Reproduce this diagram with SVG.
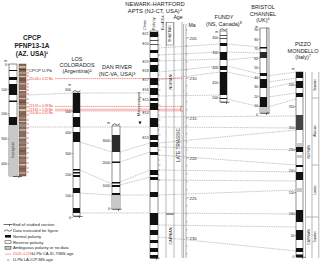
<svg xmlns="http://www.w3.org/2000/svg" xmlns:xlink="http://www.w3.org/1999/xlink" width="320" height="265" viewBox="0 0 320 265">
<style>
text{font-family:"Liberation Sans",Arial,sans-serif;fill:#222}
.ti{font-size:5.5px;text-anchor:middle}
.tb{font-size:6.5px;font-weight:bold;text-anchor:middle}
.lb{font-size:3.4px;text-anchor:end}
.ch{font-size:3.4px;text-anchor:end}
.hd{font-size:3.8px}
.lg{font-size:4.2px}
.rd{font-size:3.1px;fill:#e53935}
.n{fill:#111}
.g{fill:#c8c8c8}
.col{fill:#fff;stroke:#222;stroke-width:0.5}
.conn{fill:none;stroke:#858585;stroke-width:0.55;stroke-dasharray:1 0.8}
.red{fill:none;stroke:#e53935;stroke-width:0.55;stroke-dasharray:1.5 0.6}
.tk{stroke:#222;stroke-width:0.35}
.rt{stroke:#e53935;stroke-width:0.7}
.ax{stroke:#9a9a9a;stroke-width:0.7;fill:none}
.mk{fill:none;stroke:#111;stroke-width:0.6}
</style>
<defs>
<g id="endmk"><path class="mk" d="M-4.5,0 H4.5 M1.5,0 V1.6"/></g>
<g id="trunc"><path class="mk" d="M-4,0.8 L-1.5,-0.8 L1.5,0.8 L4,-0.8"/></g>
</defs>

<!-- connectors -->
<g id="connectors">
<path class="conn" d="M28,95 L73,93 M80,93 L150,93"/>
<path class="conn" d="M28,127 L73,127 M80,127 L150,127"/>
<path class="conn" d="M80,142 L112,152 M80,170 L112,184 M80,193 L112,195 M80,213 L150,213"/>
<path class="conn" d="M120,152 L150,143 M120,162 L150,152 M120,182 L150,170 M120,185 L150,177 M120,195 L150,195"/>
<path class="conn" d="M159,48 L220,44 M159,55 L220,52 M159,61 L220,59 M159,72 L220,66 M159,80 L220,72 M159,96 L220,95"/>
<path class="conn" d="M227,44 L260,47 M227,52 L260,53 M227,60 L260,57 M227,66 L260,74 M227,72 L260,79 M227,99 L260,107"/>
<path class="conn" d="M268,76 L296,72 M268,82 L296,78 M268,88 L296,82 M268,97 L296,93 M268,107 L296,99"/>
<path class="conn" d="M159,117 L296,116 M159,127 L296,128 M159,143 L296,130 M159,147 L296,150 M159,155 L296,165 M159,170 L296,172 M159,180 L296,181 M159,195 L296,190 M159,213 L296,214 M159,225 L296,227 M159,237 L296,251"/>
</g>

<!-- U-Pb ages -->
<g id="ages">
<rect x="55" y="108.5" width="126" height="3" fill="#f4b8b8" opacity="0.8"/>
<path class="red" d="M55,78.6 H183 M55,106.4 H181"/>
<path d="M183,106.4 H180.8 V111 H183" fill="none" stroke="#e53935" stroke-width="0.6"/>
<text x="29" y="71.5" style="font-size:4.3px">CPCP U-Pb</text>
<text class="rd" x="29" y="79.6">210.08 ± 0.22 Ma</text>
<text class="rd" x="29" y="107">213.55 ± 0.28 Ma</text>
<text class="rd" x="29" y="110.6">213.81 ± 0.26 Ma</text>
<text class="rd" x="29" y="114.2">214.06 ± 0.25 Ma</text>
</g>

<!-- CPCP -->
<g id="cpcp">
<text class="tb" x="32" y="40">CPCP</text>
<text class="tb" x="32" y="48">PFNP13-1A</text>
<text class="tb" x="32" y="56">(AZ. USA)¹</text>
<text class="lb" x="7" y="62">m</text>
<text class="lb" x="7" y="65.5">0</text>
<text class="lb" x="7" y="90.5">100</text>
<text class="lb" x="7" y="115">200</text>
<text class="lb" x="7" y="140">300</text>
<text class="lb" x="7" y="165">400</text>
<path class="tk" d="M7.3,64.3 H9 M7.3,89.3 H9 M7.3,113.8 H9 M7.3,138.8 H9 M7.3,163.8 H9"/>
<rect class="col" x="9" y="64" width="8" height="112"/>
<rect class="n" x="9" y="70" width="8" height="1"/>
<rect class="n" x="9" y="77" width="8" height="3"/>
<rect class="n" x="9" y="84" width="8" height="11"/>
<rect class="n" x="9" y="100.5" width="8" height="1.5"/>
<rect class="n" x="9" y="117" width="8" height="8"/>
<rect class="g" x="9.25" y="125" width="7.5" height="50.75"/>
<text x="13.8" y="150" transform="rotate(-90 13.8 150)" style="font-size:3.2px;text-anchor:middle">In progress</text>
<rect x="19" y="64" width="7" height="112" fill="#8b6b5a" stroke="#333" stroke-width="0.4"/>
<g>
<rect x="19.2" y="66" width="6.6" height="2" fill="#c9b3a1"/>
<rect x="19.2" y="69" width="6.6" height="1.5" fill="#5e4437"/>
<rect x="19.2" y="72" width="6.6" height="2" fill="#b38f7a"/>
<rect x="19.2" y="76" width="6.6" height="1" fill="#d8c8bb"/>
<rect x="19.2" y="78" width="6.6" height="3" fill="#7a5446"/>
<rect x="19.2" y="83" width="6.6" height="1.5" fill="#c1a493"/>
<rect x="19.2" y="86" width="6.6" height="2" fill="#946b58"/>
<rect x="19.2" y="90" width="6.6" height="1" fill="#e0d2c6"/>
<rect x="19.2" y="93" width="6.6" height="2.5" fill="#a07d6b"/>
<rect x="19.2" y="98" width="6.6" height="1" fill="#cfbfb3"/>
<rect x="19.2" y="101" width="6.6" height="2" fill="#6f5246"/>
<rect x="19.2" y="105" width="6.6" height="1.5" fill="#b89c8a"/>
<rect x="19.2" y="109" width="6.6" height="2" fill="#d2c0b2"/>
<rect x="19.2" y="113" width="6.6" height="1.5" fill="#7d5e50"/>
<rect x="19.2" y="117" width="6.6" height="2" fill="#a48572"/>
<rect x="19.2" y="121" width="6.6" height="1" fill="#ccb7a8"/>
<rect x="19.2" y="124" width="6.6" height="3" fill="#8e8a8c"/>
<rect x="19.2" y="129" width="6.6" height="2" fill="#b9a597"/>
<rect x="19.2" y="133" width="6.6" height="2" fill="#7b706e"/>
<rect x="19.2" y="137" width="6.6" height="1.5" fill="#c8b6a8"/>
<rect x="19.2" y="141" width="6.6" height="3" fill="#8a7f80"/>
<rect x="19.2" y="146" width="6.6" height="1.5" fill="#b09383"/>
<rect x="19.2" y="150" width="6.6" height="2" fill="#6b5b57"/>
<rect x="19.2" y="155" width="6.6" height="1.5" fill="#c0a898"/>
<rect x="19.2" y="159" width="6.6" height="3" fill="#9b7b6b"/>
<rect x="19.2" y="164" width="6.6" height="1.5" fill="#d1beb0"/>
<rect x="19.2" y="168" width="6.6" height="2" fill="#7c5c4c"/>
<rect x="19.2" y="172" width="6.6" height="2" fill="#b7957f"/>
</g>
<path class="rt" d="M26.5,70 H28.8 M26.5,73 H28.8 M26.5,76 H28.8 M26.5,80 H28.8 M26.5,84 H28.8 M26.5,87 H28.8 M26.5,90 H28.8 M26.5,94 H28.8 M26.5,99 H28.8 M26.5,103 H28.8 M26.5,107 H28.8 M26.5,111 H28.8 M26.5,115 H28.8 M26.5,120 H28.8 M26.5,124 H28.8 M26.5,128 H28.8 M26.5,133 H28.8 M26.5,138 H28.8 M26.5,143 H28.8 M26.5,148 H28.8 M26.5,153 H28.8 M26.5,158 H28.8 M26.5,163 H28.8 M26.5,168 H28.8 M26.5,172 H28.8"/>
<use xlink:href="#endmk" x="17.5" y="176.5"/>
</g>

<!-- Los Colorados -->
<g id="los-colorados">
<text class="ti" x="77" y="61">LOS</text>
<text class="ti" x="77" y="67">COLORADOS</text>
<text class="ti" x="77" y="73">(Argentina)²</text>
<text class="lb" x="71" y="85.5">m</text>
<text class="lb" x="71" y="91">600</text>
<text class="lb" x="71" y="112.5">500</text>
<text class="lb" x="71" y="133.5">400</text>
<text class="lb" x="71" y="154.5">300</text>
<text class="lb" x="71" y="175.5">200</text>
<text class="lb" x="71" y="197">100</text>
<text class="lb" x="71" y="219">0</text>
<path class="tk" d="M71.3,111.5 H73 M71.3,132.5 H73 M71.3,153.5 H73 M71.3,174.5 H73 M71.3,196 H73 M71.3,217.5 H73"/>
<rect class="col" x="73" y="93" width="7" height="123"/>
<rect class="n" x="73" y="93" width="7" height="20"/>
<rect class="n" x="73" y="117" width="7" height="10"/>
<rect class="n" x="73" y="132" width="7" height="10"/>
<rect class="n" x="73" y="169" width="7" height="1.5"/>
<rect class="n" x="73" y="172" width="7" height="1.5"/>
<rect class="n" x="73" y="175" width="7" height="2"/>
<rect class="n" x="73" y="188" width="7" height="5"/>
<rect class="n" x="73" y="208" width="7" height="5"/>
<use xlink:href="#trunc" x="76.5" y="91.3"/>
<use xlink:href="#endmk" x="78" y="216.5"/>
</g>

<!-- Dan River -->
<g id="dan-river">
<text class="ti" x="117" y="69">DAN RIVER</text>
<text class="ti" x="117" y="75.5">(NC-VA, USA)³</text>
<text class="lb" x="110" y="124">m</text>
<text class="lb" x="110" y="142">3000</text>
<text class="lb" x="110" y="164">2000</text>
<text class="lb" x="110" y="187">1000</text>
<text class="lb" x="110" y="210">0</text>
<path class="tk" d="M110.3,141 H112 M110.3,163 H112 M110.3,186 H112 M110.3,208.8 H112"/>
<rect class="col" x="112" y="126" width="8" height="83"/>
<rect x="112" y="135" width="8" height="17" fill="#2a2a2a"/>
<rect class="n" x="112" y="161.5" width="8" height="1.5"/>
<rect class="n" x="112" y="182" width="8" height="1.5"/>
<rect class="n" x="112" y="185" width="8" height="2"/>
<rect class="n" x="112" y="193" width="8" height="2"/>
<rect class="g" x="112.25" y="195" width="7.5" height="13.75"/>
<use xlink:href="#trunc" x="116" y="124.5"/>
<use xlink:href="#endmk" x="117" y="209.3"/>
</g>

<!-- Newark-Hartford -->
<g id="newark">
<text class="ti" x="155" y="6" style="font-size:5.8px">NEWARK-HARTFORD</text>
<text class="ti" x="155" y="12.8" style="font-size:5.8px">APTS (NJ-CT, USA)⁴</text>
<text class="hd" transform="translate(146,30) rotate(-90)">Chron</text>
<text class="hd" transform="translate(155.3,30) rotate(-90)">Polarity</text>
<text class="hd" transform="translate(163.5,30) rotate(-90)">Ecc405k</text>
<text class="ch" x="148.6" y="35">E21</text>
<text class="ch" x="148.6" y="44.5">E20</text>
<text class="ch" x="148.6" y="63">E19</text>
<text class="ch" x="148.6" y="71.5">E18</text>
<text class="ch" x="148.6" y="81">E17</text>
<text class="ch" x="148.6" y="91">E16</text>
<text class="ch" x="148.6" y="100.5">E15</text>
<text class="ch" x="148.6" y="113.5">E14</text>
<text class="ch" x="148.6" y="138.5">E13</text>
<rect class="col" x="150" y="31" width="8" height="227"/>
<rect class="n" x="150" y="32" width="8" height="5"/>
<rect class="n" x="150" y="40" width="8" height="0.7"/>
<rect class="n" x="150" y="44" width="8" height="0.7"/>
<rect class="n" x="150" y="50" width="8" height="3"/>
<rect class="n" x="150" y="58" width="8" height="4"/>
<rect class="n" x="150" y="65" width="8" height="7"/>
<rect class="n" x="150" y="78" width="8" height="7"/>
<rect class="n" x="150" y="88" width="8" height="7"/>
<rect class="n" x="150" y="98" width="8" height="3"/>
<rect class="n" x="150" y="103" width="8" height="7"/>
<rect class="n" x="150" y="118" width="8" height="9"/>
<rect class="n" x="150" y="135" width="8" height="5"/>
<rect class="n" x="150" y="142" width="8" height="5"/>
<rect class="n" x="150" y="152" width="8" height="3"/>
<rect class="n" x="150" y="170" width="8" height="5"/>
<rect class="n" x="150" y="177" width="8" height="3"/>
<rect class="n" x="150" y="192" width="8" height="5"/>
<rect class="n" x="150" y="213" width="8" height="12"/>
<rect class="n" x="150" y="230" width="8" height="5"/>
<rect class="n" x="150" y="240" width="8" height="3"/>
<rect class="n" x="150" y="248" width="8" height="4"/>
<rect class="n" x="150" y="255" width="8" height="3"/>
<path class="tk" d="M158,35 h1.5 M158,40 h1.5 M158,45 h2.5 M158,50 h1.5 M158,55 h1.5 M158,60 h2.5 M158,65 h1.5 M158,70 h1.5 M158,75 h2.5 M158,80 h1.5 M158,85 h1.5 M158,90 h2.5 M158,95 h1.5 M158,100 h1.5 M158,105 h2.5 M158,110 h1.5 M158,115 h1.5 M158,120 h2.5 M158,125 h1.5 M158,130 h1.5 M158,135 h2.5 M158,140 h1.5 M158,145 h1.5 M158,150 h2.5 M158,155 h1.5 M158,160 h1.5 M158,165 h2.5 M158,170 h1.5 M158,175 h1.5 M158,180 h2.5"/>
<use xlink:href="#endmk" x="155" y="258.3"/>
</g>

<!-- Age and Ma scale -->
<g id="age-scale">
<text x="178" y="19" style="font-size:5.2px;text-anchor:middle">Age</text>
<path class="ax" d="M166,22 V258 M174,22 V258 M182,22 V258"/>
<rect x="166.5" y="22.5" width="7" height="22.5" fill="#fff" stroke="#333" stroke-width="0.4"/>
<text transform="translate(171.3,33.7) rotate(-90)" style="font-size:3.3px;text-anchor:middle">RHAETIAN</text>
<text transform="translate(171.5,82) rotate(-90)" style="font-size:3.8px;text-anchor:middle">NORIAN</text>
<rect x="166" y="213" width="8" height="2" fill="#999"/>
<text transform="translate(171.5,236) rotate(-90)" style="font-size:3.8px;text-anchor:middle">CARNIAN</text>
<text transform="translate(179.6,145) rotate(-90)" style="font-size:4.6px;text-anchor:middle">LATE TRIASSIC</text>
<path d="M183.6,24 V258 M186,24 V258" stroke="#9a9a9a" stroke-width="0.8" fill="none"/>
<text x="188.5" y="27" style="font-size:5.2px">Ma</text>
<path class="tk" d="M186,30 h1.5 M186,38 h3 M186,46 h1.5 M186,54 h1.5 M186,62 h1.5 M186,70 h1.5 M186,78 h3 M186,86 h1.5 M186,94 h1.5 M186,102 h1.5 M186,110 h1.5 M186,118 h3 M186,126 h1.5 M186,134 h1.5 M186,142 h1.5 M186,150 h1.5 M186,158 h3 M186,166 h1.5 M186,174 h1.5 M186,182 h1.5 M186,190 h1.5 M186,198 h3 M186,206 h1.5 M186,214 h1.5 M186,222 h1.5 M186,230 h1.5 M186,238 h3 M186,246 h1.5 M186,254 h1.5"/>
<text x="189.5" y="39.5" style="font-size:4.3px">205</text>
<text x="189.5" y="79.5" style="font-size:4.3px">210</text>
<text x="189.5" y="119.5" style="font-size:4.3px">215</text>
<text x="189.5" y="159.5" style="font-size:4.3px">220</text>
<text x="189.5" y="199.5" style="font-size:4.3px">225</text>
<text x="189.5" y="239.5" style="font-size:4.3px">230</text>
</g>

<!-- Manicouagan -->
<g id="manicouagan">
<text transform="translate(139.8,104) rotate(-90)" style="font-size:4px;text-anchor:middle">Manicouagan</text>
<path d="M138.4,121.5 H141.6 L140,124.5 Z" fill="#111"/>
</g>

<!-- Fundy -->
<g id="fundy">
<text class="ti" x="224" y="19">FUNDY</text>
<text class="ti" x="224" y="25.5">(NS, Canada)⁵</text>
<text class="lb" x="218" y="32.5">m</text>
<text class="lb" x="218" y="39">300</text>
<text class="lb" x="218" y="54">350</text>
<text class="lb" x="218" y="69">400</text>
<text class="lb" x="218" y="84">450</text>
<text class="lb" x="218" y="99">500</text>
<path class="tk" d="M218.3,38 H220 M218.3,53 H220 M218.3,68 H220 M218.3,83 H220 M218.3,98 H220"/>
<rect class="col" x="220" y="31" width="7" height="71"/>
<rect class="n" x="220" y="35" width="7" height="0.7"/>
<rect class="n" x="220" y="38" width="7" height="0.7"/>
<rect class="n" x="220" y="43" width="7" height="3"/>
<rect class="n" x="220" y="52" width="7" height="8"/>
<rect class="n" x="220" y="66" width="7" height="4"/>
<rect class="n" x="220" y="72" width="7" height="23"/>
<rect class="n" x="220" y="98" width="7" height="1"/>
<use xlink:href="#trunc" x="223.5" y="29.5"/>
<use xlink:href="#endmk" x="225" y="102.3"/>
</g>

<!-- Bristol Channel -->
<g id="bristol">
<text class="ti" x="263" y="9">BRISTOL</text>
<text class="ti" x="263" y="15.5">CHANNEL</text>
<text class="ti" x="263" y="22">(UK)⁶</text>
<text class="lb" x="258" y="27.5">m</text>
<text class="lb" x="258" y="31">90</text>
<text class="lb" x="258" y="40.5">80</text>
<text class="lb" x="258" y="50">70</text>
<text class="lb" x="258" y="59.5">60</text>
<text class="lb" x="258" y="69">50</text>
<text class="lb" x="258" y="78.5">40</text>
<text class="lb" x="258" y="88">30</text>
<text class="lb" x="258" y="97.5">20</text>
<text class="lb" x="258" y="107">10</text>
<text class="lb" x="258" y="116">0</text>
<path class="tk" d="M258.3,29.8 H260 M258.3,39.3 H260 M258.3,48.8 H260 M258.3,58.3 H260 M258.3,67.8 H260 M258.3,77.3 H260 M258.3,86.8 H260 M258.3,96.3 H260 M258.3,105.8 H260"/>
<rect class="col" x="260" y="28" width="7" height="85"/>
<rect class="col" x="267" y="28" width="2" height="85"/>
<rect class="n" x="260" y="47" width="7" height="1.5"/>
<rect x="260" y="52" width="7" height="6" fill="#2a2a2a"/>
<rect class="n" x="260" y="73" width="7" height="3"/>
<rect class="n" x="260" y="79" width="7" height="9"/>
<rect class="n" x="260" y="97" width="7" height="10"/>
<rect class="g" x="260.25" y="107" width="6.5" height="5.75"/>
<use xlink:href="#endmk" x="265" y="113.3"/>
</g>

<!-- Pizzo Mondello -->
<g id="pizzo">
<text class="ti" x="303" y="46">PIZZO</text>
<text class="ti" x="303" y="52.5">MONDELLO</text>
<text class="ti" x="303" y="59">(Italy)⁷</text>
<text class="lb" x="294.5" y="69.5">m</text>
<text class="lb" x="294.5" y="86">400</text>
<text class="lb" x="294.5" y="107.5">350</text>
<text class="lb" x="294.5" y="129">300</text>
<text class="lb" x="294.5" y="150.5">250</text>
<text class="lb" x="294.5" y="172">200</text>
<text class="lb" x="294.5" y="193.5">150</text>
<text class="lb" x="294.5" y="215">100</text>
<text class="lb" x="294.5" y="236.5">50</text>
<text class="lb" x="294.5" y="258">0</text>
<path class="tk" d="M294.7,85 H296 M294.7,106.5 H296 M294.7,128 H296 M294.7,149.5 H296 M294.7,171 H296 M294.7,192.5 H296 M294.7,214 H296 M294.7,235.5 H296"/>
<rect class="col" x="296" y="72" width="7" height="185"/>
<rect class="n" x="296" y="72" width="7" height="6"/>
<rect class="n" x="296" y="81" width="7" height="7"/>
<rect class="n" x="296" y="93" width="7" height="4"/>
<rect x="296" y="115" width="7" height="15" fill="#444"/>
<rect class="g" x="296.25" y="143" width="6.5" height="4"/>
<rect class="n" x="296" y="147" width="7" height="5"/>
<rect class="g" x="296.25" y="155" width="6.5" height="3"/>
<rect class="n" x="296" y="165" width="7" height="2"/>
<rect class="n" x="296" y="172" width="7" height="8"/>
<rect class="g" x="296.25" y="188" width="6.5" height="4"/>
<rect class="n" x="296" y="210" width="7" height="12"/>
<rect class="n" x="296" y="230" width="7" height="10"/>
<rect class="n" x="296" y="248" width="7" height="4"/>
<rect class="n" x="296" y="254.5" width="7" height="2.5"/>
<path class="ax" d="M305.5,72 V258 M312,72 V258 M318.8,72 V258 M312,98 H318.8 M312,165 H318.8 M305.5,217 H318.8"/>
<text transform="translate(316.4,85) rotate(-90)" style="font-size:3px;text-anchor:middle">Sevatian</text>
<text transform="translate(316.4,131) rotate(-90)" style="font-size:3px;text-anchor:middle">Alaunian</text>
<text transform="translate(316.4,190) rotate(-90)" style="font-size:3px;text-anchor:middle">Lacian</text>
<text transform="translate(316.4,237) rotate(-90)" style="font-size:3px;text-anchor:middle">Tuvalian</text>
<text transform="translate(310,152) rotate(-90)" style="font-size:3.4px;text-anchor:middle">NORIAN</text>
<text transform="translate(310,237) rotate(-90)" style="font-size:3.4px;text-anchor:middle">CARNIAN</text>
<use xlink:href="#endmk" x="301" y="257.3"/>
</g>

<!-- Legend -->
<g id="legend">
<use xlink:href="#endmk" x="8" y="224.5"/>
<text class="lg" x="13" y="226">End of studied section</text>
<use xlink:href="#trunc" x="8" y="230.5"/>
<text class="lg" x="13" y="232">Data truncated for figure</text>
<rect class="n" x="5" y="235" width="6" height="2.6"/>
<text class="lg" x="13" y="237.8">Normal polarity</text>
<rect class="col" x="5" y="240.8" width="6" height="2.6"/>
<text class="lg" x="13" y="243.6">Reverse polarity</text>
<rect x="5" y="246.6" width="6" height="2.6" fill="#c8c8c8" stroke="#222" stroke-width="0.5"/>
<text class="lg" x="13" y="249.4">Ambiguous polarity or no data</text>
<path d="M5,254.2 H11" stroke="#f4a0a0" stroke-width="0.9"/>
<text x="13" y="255.2" style="font-size:2.6px;fill:#e53935">210.08 ± 0.22 Ma</text>
<text class="lg" x="32" y="255.2">U-Pb CA-ID-TIMS age</text>
<path class="rt" d="M7,260 H9.5"/>
<text class="lg" x="13" y="261">U-Pb LA-ICP-MS age</text>
</g>
</svg>
